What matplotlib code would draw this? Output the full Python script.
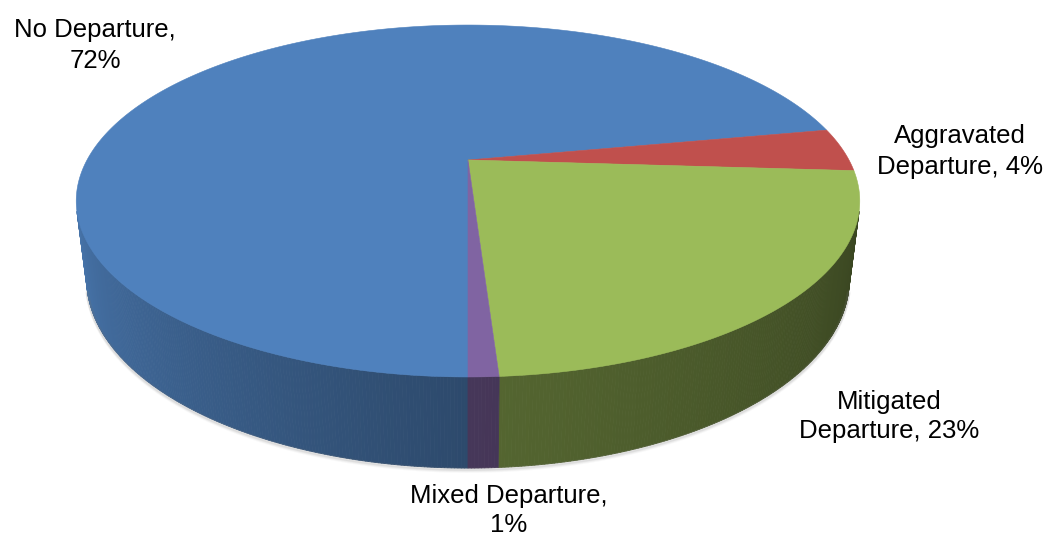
import textwrap
import numpy as np
import matplotlib
matplotlib.use("Agg")
import matplotlib.pyplot as plt
from matplotlib.collections import PolyCollection
from matplotlib.patches import Polygon
from matplotlib.colors import to_rgb

# ---- data -------------------------------------------------------------
categories = ["No Departure", "Aggravated Departure",
              "Mitigated Departure", "Mixed Departure"]
shares = [72, 4, 23, 1]
colors = ["#4F81BD", "#C0504D", "#9BBB59", "#8064A2"]

# label anchors: (centre x, first baseline y, line step) in pixels
label_pos = [(95, 37, 31.0), (960, 143, 30.6), (889, 409, 29.2), (509, 503, 29.5)]

# ---- 3-D pie geometry (pixel space) -----------------------------------
CX, CY = 468.0, 160.0          # projected pie centre
FOCAL = 1471.0
DIST = 3.861                   # camera distance in pie radii
ELEV = np.radians(25.9)        # camera elevation
THICK = 0.227                  # pie thickness in radii
START = 180.0                  # first slice starts at 6 o'clock, clockwise


def project(theta_deg, z):
    t = np.radians(theta_deg)
    X, Y = np.sin(t), np.cos(t)
    d = DIST + Y * np.cos(ELEV) - z * np.sin(ELEV)
    v = Y * np.sin(ELEV) + z * np.cos(ELEV)
    return CX + FOCAL * X / d, CY - FOCAL * v / d


# visible part of the outer wall
half = np.degrees(np.arccos(1.0 / (DIST * np.cos(ELEV))))
VIS_LO, VIS_HI = 180.0 - half, 180.0 + half


def wall_shade(theta):
    t = theta % 360.0
    if t >= 180.0:
        return 0.57 + 0.32 * (t - 180.0) / half
    return 0.55 - 0.18 * (180.0 - t) / half


fig = plt.figure(figsize=(10.54, 5.36), dpi=100)
ax = fig.add_axes([0, 0, 1, 1])
ax.set_xlim(0, 1054)
ax.set_ylim(536, 0)
ax.axis("off")

edges = np.concatenate([[0.0], np.cumsum(shares)]) / sum(shares) * 360.0 + START

# soft shadow under the front rim
sh = np.linspace(VIS_LO, VIS_HI, 300)
bx, by = project(sh, -THICK)
for off, a in [(3, 0.05), (2, 0.08), (1, 0.12)]:
    ax.plot(bx, by + off, color="0.45", alpha=a, lw=2.5, solid_capstyle="round")

# outer wall, drawn as thin shaded strips
for i, col in enumerate(colors):
    a0, a1 = edges[i], edges[i + 1]
    base = np.array(to_rgb(col))
    for k in (-1, 0, 1, 2):
        lo = max(a0, VIS_LO + 360 * k)
        hi = min(a1, VIS_HI + 360 * k)
        if hi <= lo:
            continue
        n = max(2, int((hi - lo) / 0.4) + 1)
        ts = np.linspace(lo, hi, n)
        polys, fcs = [], []
        for t0, t1 in zip(ts[:-1], ts[1:]):
            x0t, y0t = project(t0, 0.0)
            x1t, y1t = project(t1, 0.0)
            x0b, y0b = project(t0, -THICK)
            x1b, y1b = project(t1, -THICK)
            polys.append([(x0t, y0t), (x1t, y1t), (x1b, y1b), (x0b, y0b)])
            fcs.append(np.clip(base * wall_shade(0.5 * (t0 + t1)), 0, 1))
        ax.add_collection(PolyCollection(polys, facecolors=fcs, edgecolors=fcs,
                                         linewidths=0.6, antialiased=True))

# top face
for i, col in enumerate(colors):
    a0, a1 = edges[i], edges[i + 1]
    ts = np.linspace(a0, a1, max(3, int((a1 - a0) / 0.25) + 1))
    xs, ys = project(ts, 0.0)
    pts = np.column_stack([np.r_[CX, xs], np.r_[CY, ys]])
    ax.add_patch(Polygon(pts, closed=True, facecolor=col, edgecolor=col,
                         linewidth=0.4, joinstyle="miter"))

# data labels
for cat, val, (lx, ly, step) in zip(categories, shares, label_pos):
    lines = textwrap.wrap(f"{cat}, {val}%", width=16)
    for j, line in enumerate(lines):
        ax.text(lx, ly + j * step, line, ha="center", va="baseline",
                fontsize=18.5, family=["Liberation Sans", "DejaVu Sans"],
                color="black")

fig.savefig("out.png", dpi=100, facecolor="white")
